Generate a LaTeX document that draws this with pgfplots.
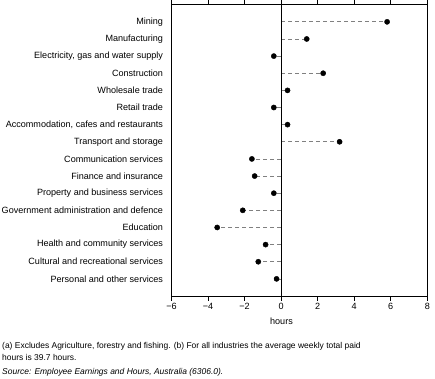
\documentclass[border=0pt]{standalone}
\usepackage{pgfplots}
\pgfplotsset{compat=1.18}
\usepackage{fontspec}
\setmainfont{Liberation Sans}
\begin{document}
\begin{tikzpicture}[x=1bp,y=1bp]
\path[use as bounding box] (0,0) rectangle (435,378);
\begin{axis}[
  at={(171.5bp,82bp)}, anchor=south west,
  scale only axis, width=255.8bp, height=291.3bp,
  xmin=-6, xmax=8, ymin=0, ymax=17, y dir=reverse,
  axis line style={black, line width=0.8pt},
  xtick={-6,-4,-2,0,2,4,6,8},
  xticklabels={−6,−4,−2,0,2,4,6,8},
  xtick pos=both, tick align=outside,
  major tick length=4.5bp,
  x tick style={black, line width=0.8pt},
  ytick={1,...,16},
  y tick style={draw=none},
  yticklabels={Mining,Manufacturing,{Electricity, gas and water supply},Construction,Wholesale trade,Retail trade,{Accommodation, cafes and restaurants},Transport and storage,Communication services,Finance and insurance,Property and business services,Government administration and defence,Education,Health and community services,Cultural and recreational services,Personal and other services},
  ticklabel style={font=\fontsize{9.1}{10}\selectfont},
  yticklabel style={xshift=-0.5bp},
  xticklabel style={yshift=0.5bp},
  clip=false,
]
\addplot[xcomb, gray, line width=0.7pt, dash pattern=on 4bp off 3bp] coordinates {
(5.8,1) (1.4,2) (-0.4,3) (2.3,4) (0.35,5) (-0.4,6) (0.35,7) (3.2,8)
(-1.6,9) (-1.45,10) (-0.4,11) (-2.1,12) (-3.5,13) (-0.85,14) (-1.25,15) (-0.25,16)};
\addplot[only marks, mark=*, mark size=2.6bp, black] coordinates {
(5.8,1) (1.4,2) (-0.4,3) (2.3,4) (0.35,5) (-0.4,6) (0.35,7) (3.2,8)
(-1.6,9) (-1.45,10) (-0.4,11) (-2.1,12) (-3.5,13) (-0.85,14) (-1.25,15) (-0.25,16)};
\draw[black, line width=0.8pt] (axis cs:0,0) -- (axis cs:0,17);
\end{axis}
\node[font=\fontsize{9.1}{10}\selectfont] at (281.5,57) {hours};
\node[anchor=base west, inner sep=0pt, font=\fontsize{8.5}{9}\selectfont] at (2,30) {(a) Excludes Agriculture, forestry and fishing. (b) For all industries the average weekly total paid};
\node[anchor=base west, inner sep=0pt, font=\fontsize{8.5}{9}\selectfont] at (2,18) {hours is 39.7 hours.};
\node[anchor=base west, inner sep=0pt, font=\fontsize{8.5}{9}\selectfont\itshape] at (2,4) {Source: Employee Earnings and Hours, Australia (6306.0).};
\end{tikzpicture}
\end{document}
